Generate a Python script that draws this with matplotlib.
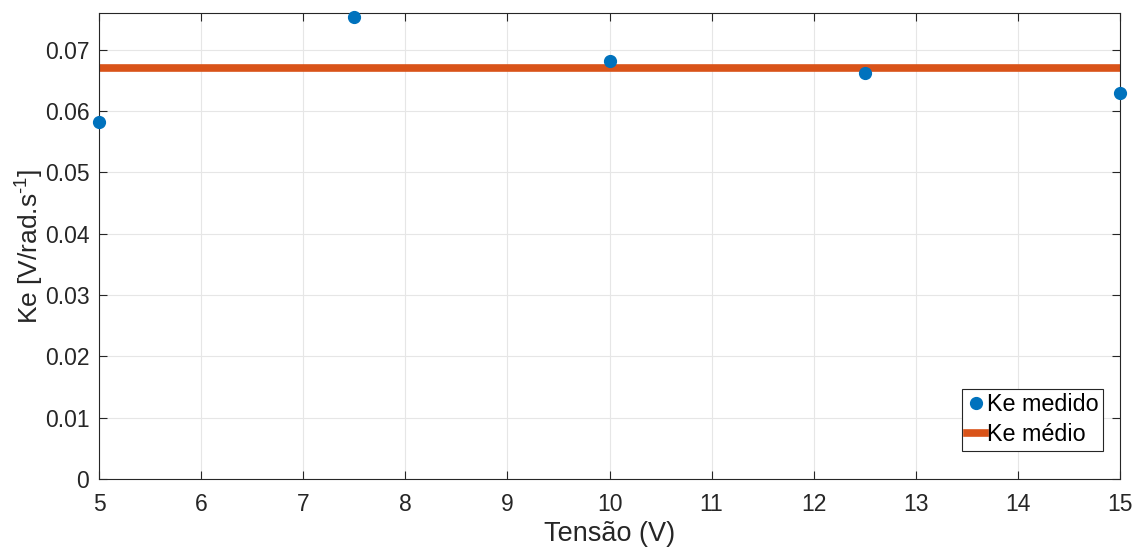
import matplotlib
matplotlib.use("Agg")
import matplotlib.pyplot as plt

tensao = [5, 7.5, 10, 12.5, 15]
ke_medido = [0.0583, 0.0753, 0.0682, 0.0662, 0.0629]
ke_medio = 0.0670
x_range = [5, 15]
y_ticks = [0, 0.01, 0.02, 0.03, 0.04, 0.05, 0.06, 0.07]
y_tick_labels = ["0", "0.01", "0.02", "0.03", "0.04", "0.05", "0.06", "0.07"]

plt.rcParams['font.family'] = ['Liberation Sans', 'DejaVu Sans']
plt.rcParams['mathtext.fontset'] = 'custom'
plt.rcParams['mathtext.rm'] = 'Liberation Sans'
plt.rcParams['mathtext.it'] = 'Liberation Sans'

fig = plt.figure(figsize=(11.41, 5.48), dpi=100)
ax = fig.add_axes([0.0868, 0.1259, 0.8948, 0.8504])

ax.plot(tensao, ke_medido, 'o', color='#0072BD', markersize=8.5, label='Ke medido',
        clip_on=False, zorder=3)
ax.plot(x_range, [ke_medio, ke_medio], '-', color='#D95319', linewidth=5.5,
        label='Ke médio', zorder=2)

ax.set_xlim(5, 15)
ax.set_ylim(0, 0.076)
ax.set_xticks(range(5, 16))
ax.set_yticks(y_ticks)
ax.set_yticklabels(y_tick_labels)

ax.grid(True, color='#e6e6e6', linewidth=0.8)
ax.set_axisbelow(True)
ax.tick_params(direction='in', top=True, right=True, labelsize=16.5, colors='#262626',
               length=6, width=0.8, pad=7)
ax.tick_params(axis='x', pad=10)
for s in ax.spines.values():
    s.set_color('#262626')
    s.set_linewidth(0.8)

ax.set_xlabel('Tensão (V)', fontsize=19.5, color='#262626', labelpad=4)
ax.set_ylabel('Ke [V/rad.s$^{\\text{-}1}$]', fontsize=19, color='#262626')
ax.yaxis.set_label_coords(-0.052, 0.5)

leg = ax.legend(loc='lower right', bbox_to_anchor=(0.9835, 0.060), fontsize=16.8,
                handlelength=0.75, handletextpad=0.1, borderpad=0.2,
                labelspacing=0.3, borderaxespad=0, fancybox=False, framealpha=1,
                edgecolor='#262626')
leg.get_frame().set_linewidth(0.8)

fig.savefig('out.png', dpi=100)
